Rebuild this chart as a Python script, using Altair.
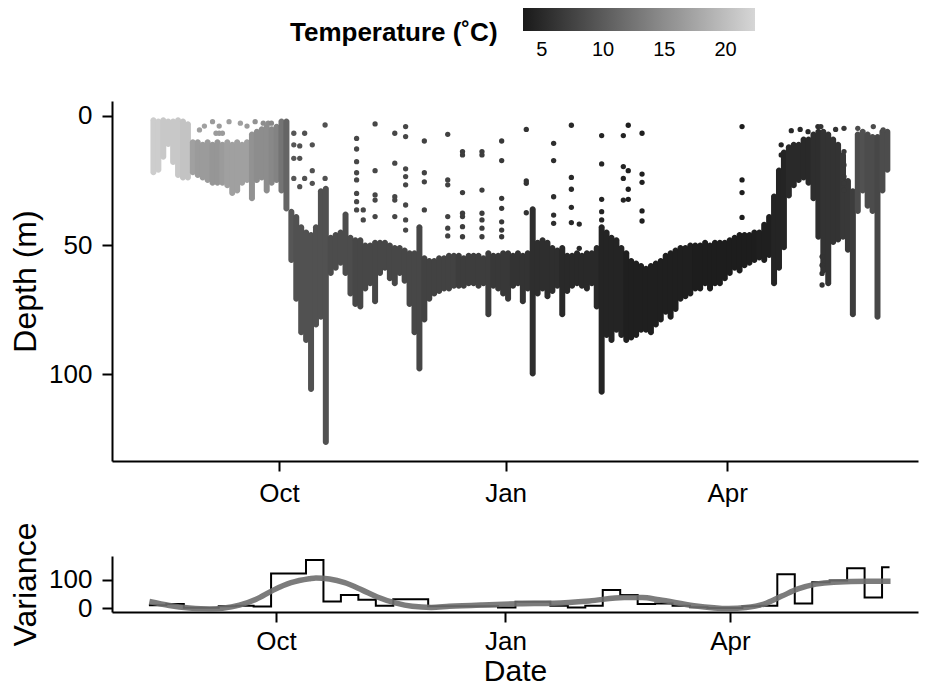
import altair as alt
import pandas as pd

REF_DAY = pd.Timestamp("2014-10-01")

# ---- dive depth envelope, one sample every 2 days from 11 Aug 2014 ----
band_start = "2014-08-11"
band_top = [0.5, 1, 0.5, 1, 1, 0.5, 1, 2, 9, 9,
            10, 9, 10, 9, 10, 9, 10, 9, 10, 9,
            6, 5, 4, 3, 4, 3, 1, 1, 36, 38,
            42, 44, 45, 42, 28, 27, 46, 45, 44, 37,
            46, 47, 47, 49, 49, 48, 48, 48, 49, 50,
            50, 51, 52, 52, 42, 54, 55, 55, 54, 54,
            53, 53, 53, 54, 53, 53, 53, 54, 52, 53,
            53, 52, 52, 53, 52, 53, 52, 35, 48, 47,
            48, 50, 51, 50, 53, 53, 52, 53, 52, 52,
            50, 42, 44, 46, 47, 50, 52, 55, 56, 57,
            58, 57, 56, 55, 53, 52, 51, 50, 50, 49,
            49, 49, 48, 49, 48, 48, 48, 47, 46, 45,
            45, 45, 44, 44, 41, 38, 30, 20, 13, 11,
            10, 10, 8, 8, 6, 5, 5, 6, 8, 10,
            14, 24, 28, 6, 5, 6, 7, 7, 5, 5]
band_bottom = [23, 22, 17, 12, 19, 24, 25, 25, 23, 24,
               25, 26, 27, 27, 27, 28, 31, 30, 27, 26,
               33, 26, 25, 30, 27, 26, 30, 37, 57, 72,
               85, 88, 107, 82, 79, 127.5, 62, 60, 58, 62,
               70, 74, 75, 68, 66, 73, 62, 60, 64, 66,
               62, 65, 74, 85, 99, 80, 72, 70, 69, 68,
               68, 67, 67, 67, 66, 66, 67, 66, 78, 67,
               68, 70, 72, 67, 66, 73, 68, 101, 70, 68,
               71, 69, 67, 78, 69, 67, 66, 67, 68, 66,
               75, 108, 86, 88, 84, 86, 88, 87, 86, 84,
               84, 85, 82, 80, 77, 79, 76, 72, 71, 70,
               68, 68, 66, 68, 66, 66, 64, 62, 60, 61,
               59, 58, 57, 56, 57, 55, 66, 60, 52, 32,
               28, 26, 25, 27, 33, 48, 61, 66, 50, 49,
               48, 53, 78, 38, 30, 36, 38, 79, 30, 22]
band_temp = [21.5, 21.5, 21, 21, 21, 21, 20.5, 20.5, 17, 16.5,
             16.5, 16.5, 16, 16, 16.5, 17, 17, 17, 17, 17,
             15.5, 15, 15, 15, 14.5, 14, 12.5, 11, 9.5, 9,
             9, 9, 9, 9, 9, 9, 8.5, 8.5, 8.5, 8.5,
             8.5, 8, 8, 8, 8, 8, 8, 8, 8, 8,
             8, 8, 8, 8, 8, 7.5, 7.5, 7.5, 7.5, 7.5,
             7.5, 7.5, 7, 7, 7, 7, 7, 7, 7, 6.5,
             6.5, 6.5, 6.5, 6, 6, 6, 6, 5.5, 5.5, 5.5,
             5.5, 5.5, 5.5, 5, 5, 5, 5, 5, 5, 5,
             5, 4.5, 4.5, 4.5, 4.5, 4.5, 4, 4, 4, 4,
             4, 4, 4, 4, 4, 4, 4, 4, 4, 4,
             3.8, 3.8, 3.8, 3.8, 3.8, 3.8, 3.8, 3.8, 3.8, 3.8,
             3.8, 3.8, 3.8, 4, 4, 4, 4.5, 4.5, 4.5, 5,
             5, 5, 5, 5, 5.5, 5.5, 6, 6, 6, 6,
             6.5, 6.5, 7, 8.5, 9, 8.5, 8.5, 8, 8.5, 8.5]

# ---- isolated shallow readings: (days from 1 Oct 2014, temperature, depths) ----
dot_cols = [
    (-32.3, 17, [5.4]), (-30.3, 17, [3.9]), (-27, 16.5, [2.2]), (-25.6, 16.5, [6.7]),
    (-24.3, 16.5, [6.7, 3.9]), (-23, 16.5, [6.7]), (-20.3, 17, [2.2]), (-15.7, 17, [2.8]),
    (-13, 16.5, [3.9]), (-9.7, 15.5, [2.2]), (-6.4, 15, [2.8]), (-4.4, 15, [2.8]), (-3.1, 14.5, [2.8]),
    (6, 9.5, [6.7, 11.2, 16.4, 24.2]), (8.4, 9, [11.6, 16.4, 27.4]), (10.4, 9, [6.7, 24.2]),
    (13.5, 9, [11.2, 21.2, 26.1]), (18.7, 9, [3.5, 24.2]),
    (31.5, 8, [8.7, 12.8, 17.7, 22.0, 24.8, 30.0, 33.2, 36.4]), (34.2, 8, [36.4, 40.3]),
    (39, 8, [3.1, 21.2, 30.6, 32.6, 39.0]), (47, 8, [6.7, 18.3, 31.3, 32.6, 39.0]),
    (51.4, 8, [4.1, 8.0, 20.5, 23.5, 26.7, 34.5, 40.3, 44.2]), (59, 7.5, [9.7, 22.0, 25.5, 36.4]),
    (68.5, 7.5, [7.1, 24.8, 26.7, 39.0, 43.5, 46.5]), (74.5, 7, [13.8, 15.1, 29.7, 37.7, 39.0, 42.9, 46.8]),
    (82.4, 7, [13.8, 15.1, 28.7, 37.7, 40.3, 43.5, 46.8]), (90.4, 6.5, [9.7, 17.3, 31.9, 35.8, 41.0, 44.2, 46.8]),
    (100.4, 6, [5.2, 25.2, 26.1, 37.5]), (111.5, 5.5, [10.6, 17.3, 31.3, 38.4, 41.6]),
    (118.7, 5, [3.6, 23.8, 28.4, 35.4, 41.3]), (121.9, 5, [41.9, 51.3]),
    (131, 4.5, [7.6, 18.6, 32.3, 37.1, 40.3]), (139.8, 4.5, [7.6, 19.6, 24.2, 32.6]),
    (141.8, 4, [3.6, 21.2, 28.4, 32.3]), (147.4, 4, [6.7, 22.5, 25.7, 36.8, 40.7]),
    (188, 3.8, [4.1, 24.8, 29.7, 39.3]), (203.9, 4.5, [11.2, 15.1]), (208, 5, [5.7]),
    (211.6, 5, [5.2]), (214.8, 5, [6.1]), (218.8, 5.5, [4.1]), (220, 6, [4.1]),
    (220.5, 6, [54.5, 57.8, 61.0, 65.5]), (226, 6, [5.2]),
    (229.4, 6.5, [4.8, 13.8, 19.0, 23.5, 26.1, 28.7]), (235, 8.5, [4.8]),
    (241.3, 8.5, [4.1]), (245.3, 8.5, [5.4]),
]

# ---- weekly depth variance (step) ----
var_start = "2014-08-11"
var_values = [10, 14, 1, 1, 6, 8, 5, 121, 121, 169,
              23, 46, 29, 8, 31, 31, 6, 6, 6, 6,
              2, 22, 22, 8, 2, 8, 63, 46, 14, 16,
              8, 3, 0, 0, 6, 8, 119, 16, 91, 97,
              140, 37, 143]
var_end = "2015-06-04"

# ---- smoothed variance: (days from 1 Oct 2014, value) ----
smooth_day = [-50.8, -42.8, -34.8, -26.7, -21.5, -14.7, -8.0, -1.1, 6.0, 13.3,
              16.0, 21.4, 27.5, 34.6, 40.6, 48.2, 54.6, 62.2, 69.5, 82.7,
              97.5, 111.5, 125.6, 139.6, 146.8, 153.6, 167.6, 181.6, 188.4, 195.6,
              202.8, 209.6, 216.4, 223.6, 237.6, 246.4]
smooth_val = [23, 9, 0, -4, -1, 10, 31, 63, 89, 103,
              106, 102, 89, 63, 39, 17, 6, 2, 6, 11,
              15, 17, 25, 37, 37, 29, 8, -2, 1.5, 14,
              42, 68, 84, 91, 94, 94]

# ---------------- tables ----------------
band_df = pd.DataFrame({
    "date": pd.date_range(band_start, periods=len(band_top), freq="2D"),
    "top": band_top, "bottom": band_bottom, "temp": band_temp,
})
dot_rows = []
for day, t, depths in dot_cols:
    for dp in depths:
        dot_rows.append({"date": REF_DAY + pd.to_timedelta(day, unit="D"), "depth": dp, "temp": t})
dots_df = pd.DataFrame(dot_rows)

var_dates = list(pd.date_range(var_start, periods=len(var_values), freq="7D")) + [pd.Timestamp(var_end)]
var_df = pd.DataFrame({"date": var_dates, "variance": var_values + [var_values[-1]]})
smooth_df = pd.DataFrame({
    "date": [REF_DAY + pd.to_timedelta(d, unit="D") for d in smooth_day],
    "value": smooth_val,
})

FONT = "Liberation Sans"
x_dom = [alt.DateTime(year=2014, month=7, date=27, hours=5),
         alt.DateTime(year=2015, month=6, date=15, hours=10)]
x_ticks = [alt.DateTime(year=2014, month=10, date=1),
           alt.DateTime(year=2015, month=1, date=1),
           alt.DateTime(year=2015, month=4, date=1)]
xscale = alt.Scale(domain=x_dom, nice=False)

TEMP_DOMAIN = [3.46, 22.4]
TEMP_RANGE = ["#1a1a1a", "#d6d6d6"]
color_scale = alt.Scale(domain=TEMP_DOMAIN, range=TEMP_RANGE, interpolate="rgb", nice=False, zero=False)
fill_scale = alt.Scale(domain=TEMP_DOMAIN, range=TEMP_RANGE, interpolate="rgb", nice=False, zero=False)
legend = alt.Legend(
    orient="none", legendX=178, legendY=-93, direction="horizontal",
    title="Temperature (˚C)", titleOrient="left", titleAnchor="middle", titleBaseline="top",
    titleFont=FONT, titleFontSize=26, titleFontWeight="bold", titleColor="black", titlePadding=25,
    titleLimit=400,
    gradientLength=232, gradientThickness=23,
    labelFont=FONT, labelFontSize=20, labelColor="black", labelOffset=9,
)

band = alt.Chart(band_df).mark_bar(width=6, cornerRadius=3).encode(
    x=alt.X("date:T", scale=xscale,
            axis=alt.Axis(values=x_ticks, format="%b", title=None, labelPadding=9)),
    y=alt.Y("top:Q", scale=alt.Scale(domain=[-5.8, 133.7], reverse=True, nice=False, zero=False),
            axis=alt.Axis(values=[0, 50, 100], title="Depth (m)", titlePadding=6.5, labelPadding=10)),
    y2="bottom:Q",
    color=alt.Color("temp:Q", scale=color_scale, legend=legend),
)
dots = alt.Chart(dots_df).mark_circle(size=28, opacity=1).encode(
    x="date:T", y="depth:Q", fill=alt.Fill("temp:Q", scale=fill_scale, legend=None),
)
top = alt.layer(band, dots).properties(width=806, height=360)

step = alt.Chart(var_df).mark_line(interpolate="step-after", color="black", strokeWidth=2).encode(
    x=alt.X("date:T", scale=xscale,
            axis=alt.Axis(values=x_ticks, format="%b", title="Date", labelPadding=6,
                          titlePadding=2, titleFontSize=30)),
    y=alt.Y("variance:Q", scale=alt.Scale(domain=[-14, 183], nice=False, zero=False),
            axis=alt.Axis(values=[0, 100], title="Variance", titlePadding=6.5, labelPadding=10)),
)
smooth = alt.Chart(smooth_df).mark_line(interpolate="monotone", color="#6e6e6e",
                                        strokeWidth=5.5, opacity=0.9).encode(
    x="date:T", y="value:Q",
)
bottom = alt.layer(step, smooth).properties(width=806, height=56)

chart = alt.vconcat(top, bottom, spacing=16).resolve_scale(
    color="independent", fill="independent"
).configure(
    padding={"left": 1, "top": 0, "right": 5, "bottom": 0}, font=FONT,
).configure_view(stroke=None).configure_axis(
    domainColor="black", domainWidth=2, tickColor="black", tickWidth=2, tickSize=10,
    labelColor="black", titleColor="black", labelFont=FONT, titleFont=FONT,
    labelFontSize=26, titleFontSize=32, titleFontWeight="normal", grid=False,
)

chart.save("out.html", embed_options={"renderer": "svg", "actions": False})
